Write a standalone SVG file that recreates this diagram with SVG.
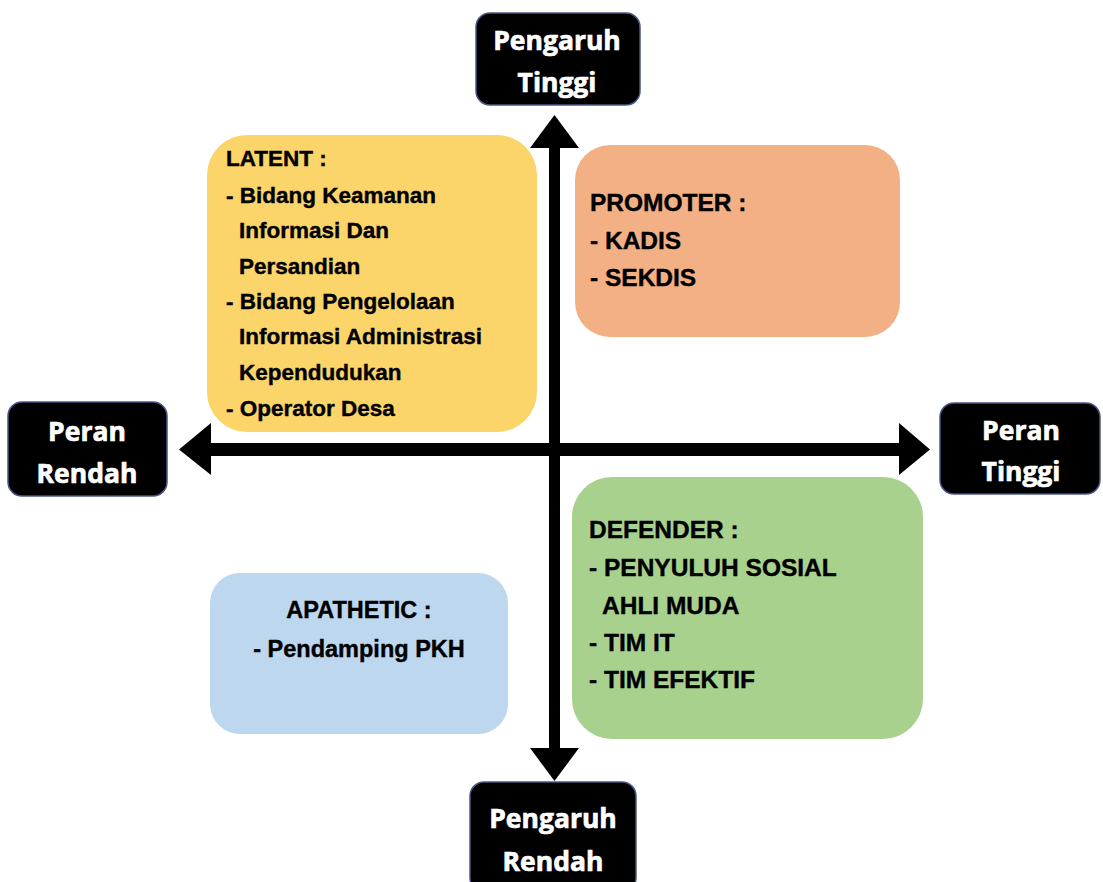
<svg xmlns="http://www.w3.org/2000/svg" width="1103" height="882" viewBox="0 0 1103 882">
<style>
.lbl{fill:#000;stroke:#4b5585;stroke-width:1.5}
.lt{font-family:"Open Sans","Noto Sans",sans-serif;font-weight:bold;font-size:26.5px;fill:#fff;stroke:#fff;stroke-width:0.7;text-anchor:middle}
.qt{font-family:"Liberation Sans",Arial,sans-serif;font-weight:bold;fill:#000;stroke:#000;stroke-width:0.4}
</style>
<rect width="1103" height="882" fill="#fff"/>
<g id="latent">
<rect x="207" y="135" width="330" height="297" rx="40" fill="#FBD46A"/>
<text class="qt" font-size="22.5" x="226" y="166">LATENT :</text>
<text class="qt" font-size="22.5" x="226" y="203">- Bidang Keamanan</text>
<text class="qt" font-size="22.5" x="239" y="238">Informasi Dan</text>
<text class="qt" font-size="22.5" x="239" y="274">Persandian</text>
<text class="qt" font-size="22.5" x="226" y="309">- Bidang Pengelolaan</text>
<text class="qt" font-size="22.5" x="239" y="344">Informasi Administrasi</text>
<text class="qt" font-size="22.5" x="239" y="380">Kependudukan</text>
<text class="qt" font-size="22.5" x="226" y="416">- Operator Desa</text>
</g>
<g id="promoter">
<rect x="575" y="145" width="325" height="192" rx="35" fill="#F2B084"/>
<text class="qt" font-size="24.5" x="590" y="211">PROMOTER :</text>
<text class="qt" font-size="24.5" x="590" y="249">- KADIS</text>
<text class="qt" font-size="24.5" x="590" y="286">- SEKDIS</text>
</g>
<g id="apathetic">
<rect x="210" y="573" width="298" height="161" rx="30" fill="#BDD7EE"/>
<text class="qt" font-size="23.5" x="359" y="618" text-anchor="middle">APATHETIC :</text>
<text class="qt" font-size="23.5" x="359" y="657" text-anchor="middle">- Pendamping PKH</text>
</g>
<g id="defender">
<rect x="572" y="477" width="351" height="262" rx="40" fill="#A9D18E"/>
<text class="qt" font-size="24.5" x="589" y="538">DEFENDER :</text>
<text class="qt" font-size="24.5" x="589" y="576">- PENYULUH SOSIAL</text>
<text class="qt" font-size="24.5" x="602" y="614">AHLI MUDA</text>
<text class="qt" font-size="24.5" x="589" y="651">- TIM IT</text>
<text class="qt" font-size="24.5" x="589" y="688">- TIM EFEKTIF</text>
</g>
<g id="connectors" fill="#000">
<rect x="549" y="140" width="11" height="615"/>
<polygon points="554.5,115 579,148 530,148"/>
<polygon points="554.5,781 579,748 530,748"/>
<rect x="205" y="443" width="700" height="13"/>
<polygon points="179,449.5 211,423 211,475"/>
<polygon points="930,449.5 899,423 899,475"/>
</g>
<g id="pengaruh-tinggi">
<rect class="lbl" x="476" y="13" width="164" height="92" rx="14"/>
<text class="lt" x="557" y="50">Pengaruh</text>
<text class="lt" x="557" y="92">Tinggi</text>
</g>
<g id="peran-rendah">
<rect class="lbl" x="8" y="402" width="159" height="94" rx="14"/>
<text class="lt" x="87" y="441">Peran</text>
<text class="lt" x="87" y="483">Rendah</text>
</g>
<g id="peran-tinggi">
<rect class="lbl" x="940" y="403" width="160" height="91" rx="14"/>
<text class="lt" x="1021" y="440">Peran</text>
<text class="lt" x="1021" y="481">Tinggi</text>
</g>
<g id="pengaruh-rendah">
<rect class="lbl" x="470" y="782" width="166" height="110" rx="14"/>
<text class="lt" x="553" y="828">Pengaruh</text>
<text class="lt" x="553" y="871">Rendah</text>
</g>
</svg>
